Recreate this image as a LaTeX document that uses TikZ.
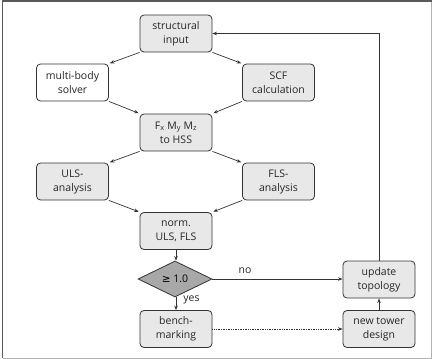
\documentclass[tikz,border=0pt]{standalone}
\usepackage{fontspec}
\setmainfont{Open Sans}
\newfontfamily\symfont{DejaVu Sans}
\usetikzlibrary{shapes.geometric,arrows.meta}
\definecolor{boxfill}{HTML}{E8E8E8}
\definecolor{diafill}{HTML}{A8A8A8}
\definecolor{linec}{HTML}{333333}
\tikzset{
  box/.style={draw=linec, line width=0.8pt, fill=boxfill, rounded corners=4pt,
    minimum width=72pt, minimum height=37pt, inner sep=0pt, align=center,
    font=\fontsize{10.5pt}{14pt}\selectfont, text=black!85},
  wbox/.style={box, fill=white},
  dia/.style={draw=linec, line width=0.8pt, fill=diafill, diamond, aspect=2,
    minimum width=74pt, minimum height=36pt, inner sep=0pt,
    font=\fontsize{10.5pt}{14pt}\selectfont},
  conn/.style={draw=linec, line width=0.7pt, -{Stealth[length=4.5pt,width=3.5pt]}},
  lbl/.style={font=\fontsize{10.5pt}{14pt}\selectfont, inner sep=0pt, text=black!85}
}
\begin{document}
\begin{tikzpicture}[x=1pt,y=-1pt]
\useasboundingbox (0,0) rectangle (432,359);
\draw[black!30, line width=1pt] (431.3,0.8) -- (431.3,358.3) -- (2.5,358.3);
\draw[black!65, line width=1.5pt] (2.5,358.3) -- (2.5,0.8) -- (431.5,0.8);
\node[box]  (si)  at (176,33.5)  {structural\\input};
\node[wbox] (mb)  at (72.5,82.5) {multi-body\\solver};
\node[box]  (scf) at (278.5,82.5) {SCF\\calculation};
\node[box]  (hss) at (176,132.5) {F\textsubscript{x} M\textsubscript{y} M\textsubscript{z}\\to HSS};
\node[box]  (uls) at (72.5,181.5) {ULS-\\analysis};
\node[box]  (fls) at (278.5,181.5) {FLS-\\analysis};
\node[box]  (nrm) at (176,231) {norm.\\ULS, FLS};
\node[dia]  (chk) at (175,279) {{\symfont ≥} 1.0};
\node[box]  (bm)  at (176,329) {bench-\\marking};
\node[box]  (upd) at (379,279.5) {update\\topology};
\node[box]  (ntd) at (379,329) {new tower\\design};

\draw[conn, shorten >=1pt] (si.south west) -- (mb.north east);
\draw[conn, shorten >=1pt] (si.south east) -- (scf.north west);
\draw[conn, shorten >=1pt] (mb.south east) -- (hss.north west);
\draw[conn, shorten >=1pt] (scf.south west) -- (hss.north east);
\draw[conn, shorten >=1pt] (hss.south west) -- (uls.north east);
\draw[conn, shorten >=1pt] (hss.south east) -- (fls.north west);
\draw[conn, shorten >=1pt] (uls.south east) -- (nrm.north west);
\draw[conn, shorten >=1pt] (fls.south west) -- (nrm.north east);
\draw[conn] (nrm.south) -- (nrm.south |- chk.north);
\draw[conn] (chk.south -| bm.north) -- (bm.north);
\draw[conn] (chk.east) -- (chk.east -| upd.west);
\draw[conn, densely dotted] (bm.east) -- (ntd.west);
\draw[conn] (ntd.north) -- (upd.south);
\draw[conn] (upd.north) |- (si.east);
\node[lbl] (no)  at (245,271) {no};
\node[lbl] (yes) at (191.5,300) {yes};
\end{tikzpicture}
\end{document}
